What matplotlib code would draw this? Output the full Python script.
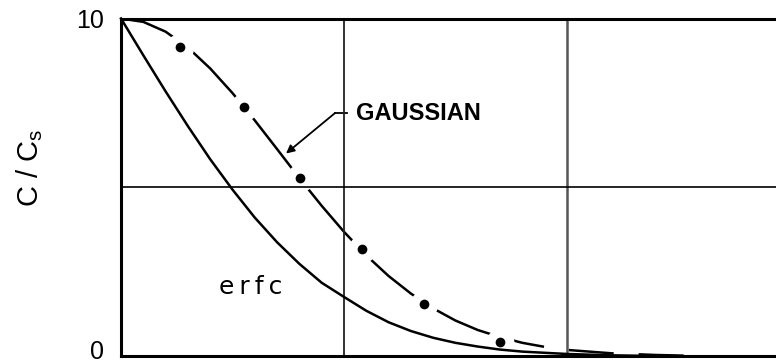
import matplotlib
matplotlib.use("Agg")
import matplotlib.pyplot as plt
from matplotlib.transforms import ScaledTranslation

# concentration profiles, C/Cs (x10) against depth
erfc_x = [0.0, 0.1, 0.2, 0.3, 0.4, 0.5, 0.6, 0.7, 0.8, 0.9, 1.0, 1.1, 1.2, 1.3,
          1.4, 1.5, 1.6, 1.7, 1.8, 2.0, 2.2, 2.4]
erfc_y = [10.0, 8.91, 7.84, 6.81, 5.83, 4.93, 4.10, 3.37, 2.73, 2.17, 1.75, 1.34,
          1.00, 0.74, 0.54, 0.39, 0.28, 0.19, 0.13, 0.06, 0.02, 0.0]

gauss_x = [0.0, 0.1, 0.2, 0.3, 0.4, 0.5, 0.6, 0.7, 0.8, 0.9, 1.0, 1.1, 1.2, 1.3,
           1.4, 1.5, 1.6, 1.7, 1.8, 1.9, 2.0, 2.2, 2.4, 2.6]
gauss_y = [10.0, 9.90, 9.61, 9.14, 8.52, 7.79, 6.98, 6.13, 5.27, 4.45, 3.68, 2.98,
           2.37, 1.85, 1.41, 1.05, 0.77, 0.56, 0.39, 0.27, 0.18, 0.08, 0.03, 0.0]

# measured points
pts_x = [0.265, 0.552, 0.803, 1.081, 1.359, 1.70]
pts_y = [9.16, 7.38, 5.27, 3.17, 1.54, 0.41]

ytick_vals = [0, 10]
ytick_text = ["0", "10"]

W, H = 776, 364
fig = plt.figure(figsize=(W / 100, H / 100), dpi=100)
ax = fig.add_axes([121 / W, 1 - 356 / H, 669 / W, (356 - 18.5) / H])

ax.set_xlim(0, 3)
ax.set_ylim(0, 10)

for s in ax.spines.values():
    s.set_linewidth(2.2)
    s.set_color("black")
    s.set_zorder(7)

# grid lines sit above the white rings so they show through the gaps
ax.axvline(1, color="#222222", lw=1.3, zorder=4.5)
ax.axvline(2, color="#555555", lw=1.8, zorder=4.5)
ax.axhline(5, color="black", lw=1.2, zorder=4.5)

ax.plot(erfc_x, erfc_y, color="black", lw=1.8, zorder=5, clip_on=False)

# gaussian: solid through the points (rings cut the gaps), dashed tail after
k = 18
ax.plot(gauss_x[:k], gauss_y[:k], color="black", lw=1.8, zorder=3,
        solid_capstyle="butt")
ax.plot(gauss_x[k - 1:], gauss_y[k - 1:], color="black", lw=1.8, zorder=3,
        dashes=(18, 10), dash_capstyle="butt", clip_on=False)
ax.plot(pts_x, pts_y, "o", color="white", ms=7, mec="white", mew=13,
        zorder=4)
ax.plot(pts_x, pts_y, "o", color="black", ms=7, mew=0, zorder=6)

ax.set_xticks([])
ax.set_yticks(ytick_vals)
ax.set_yticklabels(ytick_text, fontsize=18, family="Liberation Sans")
ax.tick_params(axis="y", length=0, pad=12)
zero_lbl = ax.get_yticklabels()[0]
zero_lbl.set_transform(zero_lbl.get_transform()
                       + ScaledTranslation(0, 5 / 72, fig.dpi_scale_trans))

ax.text(1.054, 7.2, "GAUSSIAN", fontsize=17, fontweight="bold",
        family="Liberation Sans", ha="left", va="center")
ax.plot([1.013, 0.96], [7.2, 7.2], color="black", lw=1.3)
ax.annotate("", xy=(0.74, 6.0), xytext=(0.96, 7.2),
            arrowprops=dict(arrowstyle="-|>", color="black", lw=1.3,
                            mutation_scale=12, shrinkA=0, shrinkB=0))

ax.text(0.583, 2.04, "e\u2009r\u2009f\u2009c", fontsize=18,
        family="DejaVu Sans", ha="center", va="center")

fig.text(30 / W, 1 - 168 / H, r"C / C$_\mathregular{s}$", fontsize=21,
         family="Liberation Sans", rotation=90, ha="center", va="center")

fig.savefig("out.png", dpi=100)
